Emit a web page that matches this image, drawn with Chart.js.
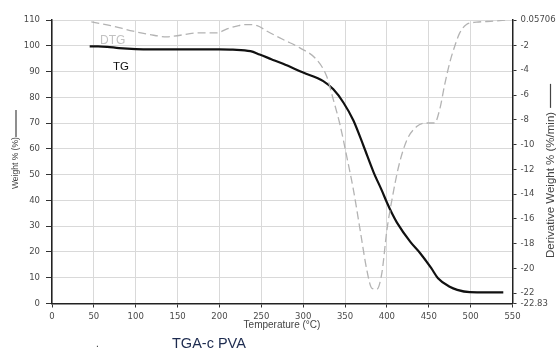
<!DOCTYPE html>
<html>
<head>
<meta charset="utf-8">
<script src="https://cdn.jsdelivr.net/npm/chart.js@4/dist/chart.umd.min.js"></script>
<style>
  html, body { margin: 0; padding: 0; background: #fff; }
  #wrap { position: relative; width: 558px; height: 349px; }
</style>
</head>
<body>
<div id="wrap"><canvas id="c" width="558" height="349"></canvas></div>
<script>
// ---- Data ----
const tgTemp   = [45, 55, 66, 80, 100, 120, 160, 200, 216, 237, 248, 262, 276, 300, 324, 336, 348, 360, 372, 384, 394, 400, 406, 412, 428, 440, 453, 461, 475, 484, 499, 520, 539];
const tgWeight = [99.8, 99.8, 99.6, 99.1, 98.7, 98.6, 98.6, 98.6, 98.5, 97.9, 96.6, 94.8, 93.0, 89.6, 86.3, 83.1, 78.0, 71.0, 61.2, 51.0, 43.8, 39.2, 35.0, 31.4, 23.9, 19.4, 13.7, 9.8, 6.5, 5.3, 4.4, 4.3, 4.3];

const dtgTemp  = [47, 70, 97, 117, 137, 145, 177, 197, 209, 223, 233, 245, 257, 276, 296, 316, 328, 336, 344, 352, 360, 368, 376, 382, 388, 394, 400, 406, 414, 424, 436, 447, 457, 463, 469, 475, 481, 487, 495, 507, 527, 543];
const dtgDeriv = [-0.1, -0.39, -0.85, -1.12, -1.3, -1.25, -0.98, -0.98, -0.66, -0.39, -0.31, -0.39, -0.85, -1.52, -2.19, -3.14, -4.49, -6.37, -8.4, -10.96, -13.65, -16.89, -20.12, -21.6, -21.68, -20.36, -16.89, -14.46, -11.77, -9.61, -8.53, -8.26, -8.26, -7.18, -5.16, -3.4, -2.06, -0.98, -0.31, -0.12, -0.04, 0.05];

const xTicks      = [0, 50, 100, 150, 200, 250, 300, 350, 400, 450, 500, 550];
const weightTicks = [0, 10, 20, 30, 40, 50, 60, 70, 80, 90, 100, 110];
const derivTicks  = [0.05706, -2, -4, -6, -8, -10, -12, -14, -16, -18, -20, -22, -22.83];
const derivLabels = ['0.05706', '-2', '-4', '-6', '-8', '-10', '-12', '-14', '-16', '-18', '-20', '-22', '-22.83'];

const tgPoints  = tgTemp.map((t, i) => ({ x: t, y: tgWeight[i] }));
const dtgPoints = dtgTemp.map((t, i) => ({ x: t, y: dtgDeriv[i] }));

const tickFont = { family: 'DejaVu Sans', size: 8.5 };
const tickColor = '#4a4a4a';

const textPlugin = {
  id: 'texts',
  afterDraw(chart) {
    const ctx = chart.ctx;
    ctx.save();
    // DTG / TG labels
    ctx.textBaseline = 'alphabetic';
    ctx.textAlign = 'left';
    ctx.font = '12px "Liberation Sans"';
    ctx.fillStyle = '#c2c2c2';
    ctx.fillText('DTG', 100, 43.5);
    ctx.font = '11.5px "Liberation Sans"';
    ctx.fillStyle = '#111';
    ctx.fillText('TG', 113, 69.5);

    // x axis title
    ctx.font = '10px "Liberation Sans"';
    ctx.fillStyle = '#444';
    ctx.textAlign = 'center';
    ctx.textBaseline = 'middle';
    ctx.fillText('Temperature (\u00B0C)', 282, 325.5);

    // caption
    ctx.font = '14.5px "Liberation Sans"';
    ctx.fillStyle = '#1d2b4f';
    ctx.textAlign = 'left';
    ctx.textBaseline = 'alphabetic';
    ctx.fillText('TGA-c PVA', 172, 347.5);
    ctx.font = '10px "Liberation Sans"';
    ctx.fillStyle = '#333';
    ctx.fillText('.', 96, 347);

    // left axis title (rotated)
    ctx.save();
    ctx.translate(16, 189);
    ctx.rotate(-Math.PI / 2);
    ctx.font = '8.5px "Liberation Sans"';
    ctx.fillStyle = '#444';
    ctx.textAlign = 'left';
    ctx.textBaseline = 'middle';
    ctx.fillText('Weight % (%)', 0, 0);
    ctx.strokeStyle = '#444';
    ctx.lineWidth = 1.2;
    ctx.beginPath();
    ctx.moveTo(52, 0); ctx.lineTo(79, 0);
    ctx.stroke();
    ctx.restore();

    // right axis title (rotated)
    ctx.save();
    ctx.translate(550.5, 258);
    ctx.rotate(-Math.PI / 2);
    ctx.font = '11.5px "Liberation Sans"';
    ctx.fillStyle = '#444';
    ctx.textAlign = 'left';
    ctx.textBaseline = 'middle';
    const rt = 'Derivative Weight % (%/min)';
    ctx.fillText(rt, 0, 0);
    const rw = ctx.measureText(rt).width;
    ctx.strokeStyle = '#444';
    ctx.lineWidth = 1.2;
    ctx.beginPath();
    ctx.moveTo(rw + 4, 0); ctx.lineTo(rw + 28, 0);
    ctx.stroke();
    ctx.restore();

    ctx.restore();
  }
};

new Chart(document.getElementById('c'), {
  type: 'line',
  data: {
    datasets: [
      {
        label: 'DTG',
        data: dtgPoints,
        yAxisID: 'y2',
        borderColor: '#b3b3b3',
        borderWidth: 1.3,
        borderDash: [8, 4],
        pointRadius: 0,
        fill: false,
        cubicInterpolationMode: 'monotone'
      },
      {
        label: 'TG',
        data: tgPoints,
        yAxisID: 'y',
        borderColor: '#111',
        borderWidth: 2.2,
        pointRadius: 0,
        fill: false,
        cubicInterpolationMode: 'monotone'
      }
    ]
  },
  options: {
    responsive: false,
    animation: false,
    layout: { padding: { top: 20, left: 0, right: 0, bottom: 0 } },
    plugins: { legend: { display: false }, tooltip: { enabled: false }, title: { display: false } },
    scales: {
      x: {
        type: 'linear',
        min: 0, max: 550,
        afterBuildTicks(s) { s.ticks = xTicks.map(v => ({ value: v })); },
        afterFit(s) { s.height = 45.5; },
        ticks: { font: tickFont, color: tickColor, padding: 4, maxRotation: 0, autoSkip: false },
        grid: { color: '#d9d9d9', lineWidth: 1, tickLength: 4, tickColor: '#333' },
        border: { color: '#222', width: 1.5 }
      },
      y: {
        type: 'linear',
        position: 'left',
        min: 0, max: 110,
        afterBuildTicks(s) { s.ticks = weightTicks.map(v => ({ value: v })); },
        afterFit(s) { s.width = 52; },
        ticks: { font: tickFont, color: tickColor, padding: 6, autoSkip: false },
        grid: { color: '#d9d9d9', lineWidth: 1, tickLength: 6, tickColor: '#333' },
        border: { color: '#222', width: 1.5 }
      },
      y2: {
        type: 'linear',
        position: 'right',
        min: -22.83, max: 0.05706,
        afterBuildTicks(s) { s.ticks = derivTicks.map(v => ({ value: v })); },
        afterFit(s) { s.width = 45.5; },
        ticks: {
          font: tickFont, color: tickColor, padding: 4, autoSkip: false,
          callback(v, i) { return derivLabels[i]; }
        },
        grid: { drawOnChartArea: false, tickLength: 4, tickColor: '#333' },
        border: { color: '#222', width: 1.5 }
      }
    }
  },
  plugins: [textPlugin]
});
</script>
</body>
</html>
